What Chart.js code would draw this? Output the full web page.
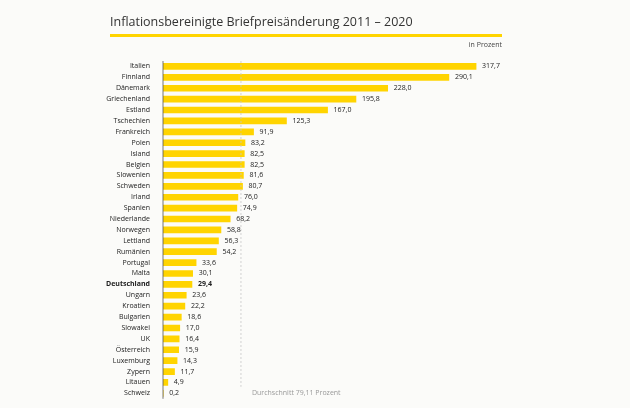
<!DOCTYPE html>
<html><head><meta charset="utf-8">
<script src="https://cdn.jsdelivr.net/npm/chart.js@4"></script>
<style>
body{margin:0;background:#fbfbf9;font-family:"Open Sans",sans-serif}
#wrap{position:relative;width:630px;height:408px}
#title{position:absolute;left:110px;top:13px;font-size:12.5px;color:#333}
#rule{position:absolute;left:110px;top:34px;width:392px;height:3px;background:#ffd400}
#unit{position:absolute;right:128px;top:40px;font-size:7px;color:#444}
canvas{display:block}
</style></head><body>
<div id="wrap">
<div id="title">Inflationsbereinigte Briefpreisänderung 2011 – 2020</div>
<div id="rule"></div>
<div id="unit">in Prozent</div>
<canvas id="chart" width="630" height="408"></canvas>
</div>
<script>
const countries = ["Italien","Finnland","Dänemark","Griechenland","Estland","Tschechien","Frankreich","Polen","Island","Belgien","Slowenien","Schweden","Irland","Spanien","Niederlande","Norwegen","Lettland","Rumänien","Portugal","Malta","Deutschland","Ungarn","Kroatien","Bulgarien","Slowakei","UK","Österreich","Luxemburg","Zypern","Litauen","Schweiz"];
const changes = [317.7,290.1,228.0,195.8,167.0,125.3,91.9,83.2,82.5,82.5,81.6,80.7,76.0,74.9,68.2,58.8,56.3,54.2,33.6,30.1,29.4,23.6,22.2,18.6,17.0,16.4,15.9,14.3,11.7,4.9,0.2];
const average = 79.11;
const fmt = v => v.toFixed(1).replace(".", ",");

const overlay = {
  id: "overlay",
  afterDatasetsDraw(chart) {
    const ctx = chart.ctx, x = chart.scales.x, a = chart.chartArea;
    const meta = chart.getDatasetMeta(0);
    ctx.save();
    const ax = x.getPixelForValue(average);
    ctx.strokeStyle = "#c8c8c8"; ctx.setLineDash([2, 2]); ctx.lineWidth = 0.8;
    ctx.beginPath(); ctx.moveTo(ax, a.top); ctx.lineTo(ax, a.bottom - 12); ctx.stroke();
    ctx.setLineDash([]);
    ctx.strokeStyle = "#555"; ctx.beginPath(); ctx.moveTo(a.left, a.top); ctx.lineTo(a.left, a.bottom); ctx.stroke();
    ctx.textBaseline = "middle";
    meta.data.forEach((bar, i) => {
      ctx.font = (countries[i] === "Deutschland" ? "bold " : "") + "7px 'Open Sans'";
      ctx.fillStyle = "#222";
      ctx.fillText(fmt(changes[i]), bar.x + 6, bar.y);
    });
    ctx.font = "7px 'Open Sans'"; ctx.fillStyle = "#999";
    ctx.fillText("Durchschnitt 79,11 Prozent", ax + 11, meta.data[meta.data.length - 1].y);
    ctx.restore();
  }
};

new Chart(document.getElementById("chart"), {
  type: "bar",
  data: { labels: countries, datasets: [{ data: changes, backgroundColor: "#ffd400", barThickness: 6 }] },
  options: {
    indexAxis: "y", responsive: false, animation: false,
    layout: { padding: { top: 61, bottom: -4, right: 128 } },
    plugins: { legend: { display: false }, tooltip: { enabled: false } },
    scales: {
      x: { min: 0, max: 344, display: false },
      y: {
        grid: { display: false }, border: { display: false },
        afterFit: s => { s.width = 163; },
        ticks: {
          padding: 5, color: "#222", autoSkip: false,
          font: c => ({ family: "Open Sans", size: 7, weight: countries[c.index] === "Deutschland" ? "bold" : "normal" })
        }
      }
    }
  },
  plugins: [overlay]
});
</script>
</body></html>
